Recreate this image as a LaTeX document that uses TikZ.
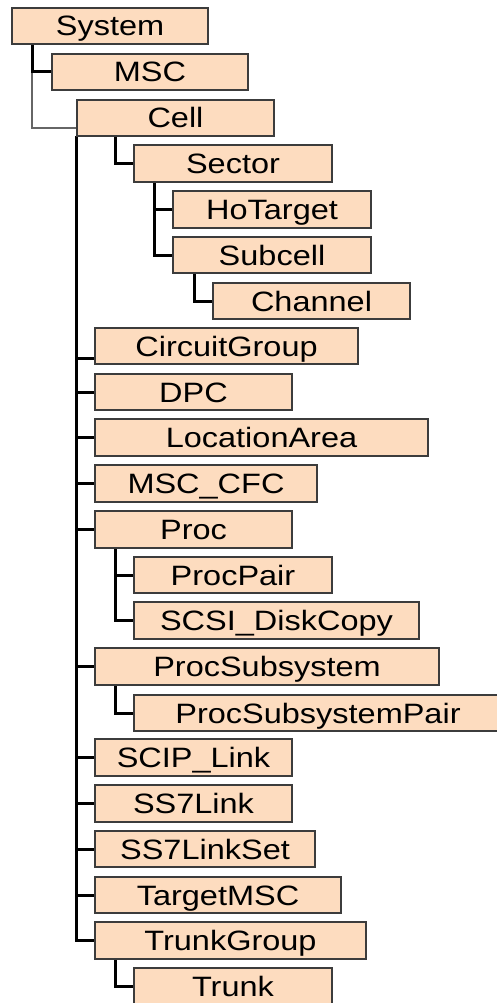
\documentclass[tikz,border=0pt]{standalone}
\usepackage{fontspec}
\setmainfont{Liberation Sans}[FakeStretch=1.16]
\definecolor{peach}{RGB}{253,220,191}
\definecolor{edge}{RGB}{60,60,60}
\newcommand\mkbox[6]{%
  \node[bx, minimum width=#3pt-#2pt, minimum height=#5pt-#4pt] (#1) at ({(#2+#3)/2},{(#4+#5)/2}) {#6};}
\tikzset{
  bx/.style={draw=edge, fill=peach, line width=1.4pt, rectangle, inner sep=0pt,
    text height=20pt, text depth=0pt, font=\fontsize{28}{30}\selectfont},
  conn/.style={draw=black, line width=3pt, line join=miter},
  thinconn/.style={draw=gray!80!black, line width=1.3pt}
}
\begin{document}
\begin{tikzpicture}[x=1pt,y=-1pt]
\useasboundingbox (0,0) rectangle (497,1003);
% connectors (drawn first, boxes on top)
\coordinate (sysx) at (32,44);
\coordinate (cellx) at (76,136);
\coordinate (cellsx) at (115,136);
\coordinate (secx) at (154,182);
\coordinate (subx) at (194,273);
\coordinate (procx) at (115,548);
\coordinate (procsubx) at (115,685);
\coordinate (tgx) at (115,959);
\coordinate (cellin) at (78,128);
\coordinate (cgin) at (95,358);
\draw[thinconn] (sysx) |- (cellin);
\draw[conn] (sysx) |- (53,72) coordinate (mscin);
\draw[conn] (cellx) |- (cgin);
\draw[conn] (cellx) |- (95,392) coordinate (dpcin);
\draw[conn] (cellx) |- (95,437.5) coordinate (lain);
\draw[conn] (cellx) |- (95,483.5) coordinate (cfcin);
\draw[conn] (cellx) |- (95,529.5) coordinate (procin);
\draw[conn] (cellx) |- (95,666.5) coordinate (psin);
\draw[conn] (cellx) |- (95,757.5) coordinate (scipin);
\draw[conn] (cellx) |- (95,803.5) coordinate (s7in);
\draw[conn] (cellx) |- (95,849) coordinate (s7sin);
\draw[conn] (cellx) |- (95,895) coordinate (tmin);
\draw[conn] (cellx) |- (95,940.5) coordinate (tgin);
\draw[conn] (cellsx) |- (134,163.5) coordinate (secin);
\draw[conn] (secx) |- (173,209.5) coordinate (hoin);
\draw[conn] (secx) |- (173,255) coordinate (subin);
\draw[conn] (subx) |- (213,301) coordinate (chin);
\draw[conn] (procx) |- (134,575) coordinate (ppin);
\draw[conn] (procx) |- (134,620.5) coordinate (scsiin);
\draw[conn] (procsubx) |- (134,713) coordinate (pspin);
\draw[conn] (tgx) |- (134,986.5) coordinate (trin);
% boxes
\mkbox{sys}{12}{208}{8}{44}{System}
\mkbox{msc}{52}{248}{54}{90}{MSC}
\mkbox{cell}{77}{274}{100}{136}{Cell}
\mkbox{sector}{134}{332}{145}{182}{Sector}
\mkbox{hotarget}{173}{371}{191}{228}{HoTarget}
\mkbox{subcell}{173}{371}{237}{273}{Subcell}
\mkbox{channel}{213}{410}{283}{319}{Channel}
\mkbox{circuit}{95}{358}{328}{364}{CircuitGroup}
\mkbox{dpc}{95}{292}{374}{410}{DPC}
\mkbox{locarea}{95}{428}{419}{456}{LocationArea}
\mkbox{msccfc}{95}{317}{465}{502}{MSC\_CFC}
\mkbox{proc}{95}{292}{511}{548}{Proc}
\mkbox{procpair}{134}{332}{557}{593}{ProcPair}
\mkbox{scsi}{134}{419}{602}{639}{SCSI\_DiskCopy}
\mkbox{procsub}{95}{439}{648}{685}{ProcSubsystem}
\mkbox{procsubpair}{134}{502}{695}{731}{ProcSubsystemPair}
\mkbox{sciplink}{95}{292}{739}{776}{SCIP\_Link}
\mkbox{ss7link}{95}{292}{785}{822}{SS7Link}
\mkbox{ss7linkset}{95}{315}{831}{867}{SS7LinkSet}
\mkbox{targetmsc}{95}{341}{877}{913}{TargetMSC}
\mkbox{trunkgroup}{95}{366}{922}{959}{TrunkGroup}
\mkbox{trunk}{134}{332}{968}{1005}{Trunk}
\end{tikzpicture}
\end{document}
